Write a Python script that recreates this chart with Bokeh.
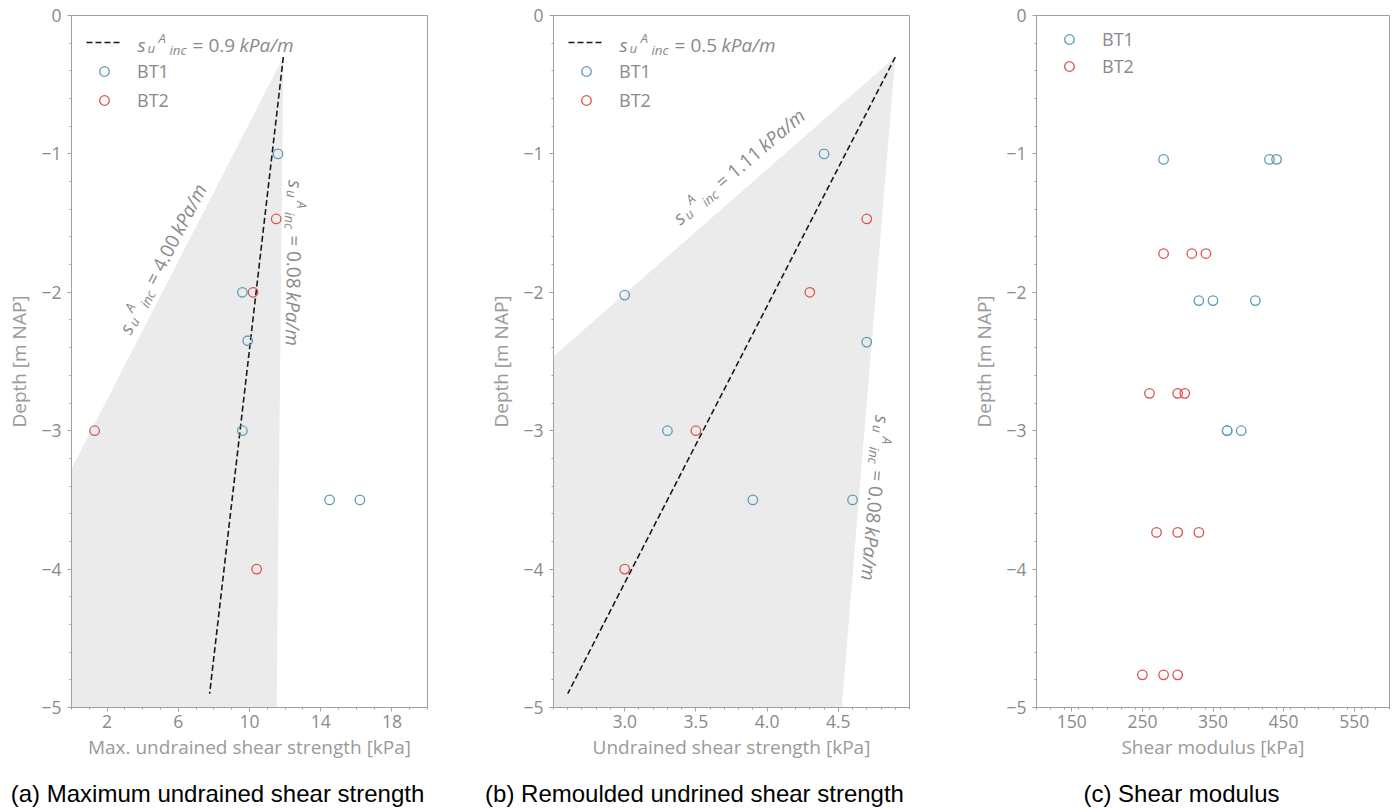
import math
from bokeh.plotting import figure
from bokeh.models import FixedTicker, Label, Legend, LegendItem, Range1d
from bokeh.layouts import row, column
from bokeh.embed import file_html
from bokeh.resources import INLINE

# ---------------- data ----------------
depth_ticks = [0, -1, -2, -3, -4, -5]
depth_tick_labels = ["0", "\u22121", "\u22122", "\u22123", "\u22124", "\u22125"]

a_ticks = [2, 6, 10, 14, 18]
a_tick_labels = ["2", "6", "10", "14", "18"]
b_ticks = [3.0, 3.5, 4.0, 4.5]
b_tick_labels = ["3.0", "3.5", "4.0", "4.5"]
c_ticks = [150, 250, 350, 450, 550]
c_tick_labels = ["150", "250", "350", "450", "550"]

panel_titles = ["(a) Maximum undrained shear strength",
                "(b) Remoulded undrined shear strength",
                "(c) Shear modulus"]

# (a) maximum undrained shear strength [kPa] vs depth [m NAP]
a_bt1_su = [11.6, 9.6, 9.9, 9.6, 14.5, 16.2]
a_bt1_depth = [-1.0, -2.0, -2.35, -3.0, -3.5, -3.5]
a_bt2_su = [11.5, 10.2, 1.3, 10.4]
a_bt2_depth = [-1.47, -2.0, -3.0, -4.0]
a_trend_su = [11.9, 7.76]
a_trend_depth = [-0.3, -4.9]
a_trend_rate = "0.9"
a_apex = [11.9, -0.3]
a_band_rates = [4.00, 0.08]
a_band_labels = ["4.00", "0.08"]

# (b) remoulded undrained shear strength
b_bt1_su = [4.4, 3.0, 3.3, 3.9, 4.7, 4.6]
b_bt1_depth = [-1.0, -2.02, -3.0, -3.5, -2.36, -3.5]
b_bt2_su = [4.7, 4.3, 3.5, 3.0]
b_bt2_depth = [-1.47, -2.0, -3.0, -4.0]
b_trend_su = [4.9, 2.6]
b_trend_depth = [-0.3, -4.9]
b_trend_rate = "0.5"
b_apex = [4.9, -0.3]
b_band_rates = [1.11, 0.08]
b_band_labels = ["1.11", "0.08"]

# (c) shear modulus [kPa]
c_bt1_g = [280, 430, 440, 330, 350, 410, 370, 370, 390]
c_bt1_depth = [-1.04, -1.04, -1.04, -2.06, -2.06, -2.06, -3.0, -3.0, -3.0]
c_bt2_g = [280, 320, 340, 260, 300, 310, 270, 300, 330, 250, 280, 300]
c_bt2_depth = [-1.72, -1.72, -1.72, -2.73, -2.73, -2.73, -3.735, -3.735, -3.735,
               -4.764, -4.764, -4.764]

# ---------------- style ----------------
BT1 = "#5b9db5"
BT2 = "#d9534f"
BAND = "#ebebeb"
TICK_C = "#8a8a8a"
LABEL_C = "#9a9a9a"
SPINE = "#a0a0a0"
FONT = "Open Sans"
TOP = 15
BOTTOM = 72
H = 779
CAP_H = 30
FRAME_H = H - TOP - BOTTOM
DEPTH_BOTTOM = -5.0

REG_W = {"0": .572, "1": .572, "2": .572, "3": .572, "4": .572, "5": .572,
         "6": .572, "7": .572, "8": .572, "9": .572, ".": .266, "=": .572, " ": .26}


def w_reg(s, size):
    return sum(REG_W.get(c, .57) for c in s) * size


def add_math(p, x, y, rate, angle=0.0, units="data", size=19.0, color=TICK_C):
    sub = size * 0.7
    t = math.radians(angle)
    d = (math.cos(t), math.sin(t))
    u = (-math.sin(t), math.cos(t))
    rate_txt = "= " + rate
    k_off = 2.9 * size + 0.9 * w_reg(rate_txt, size) + 0.45 * size
    pieces = [("s", 0.0, 0.0, size, "italic"),
              ("u", 0.53 * size, -0.19 * size, sub, "italic"),
              ("A", 1.1 * size, 0.36 * size, sub, "italic"),
              ("inc", 1.68 * size, -0.27 * size, sub, "italic"),
              (rate_txt, 2.9 * size, 0.0, size, "normal"),
              ("kPa/m", k_off, 0.0, size, "italic")]
    for txt, along, perp, fs, style in pieces:
        ox = along * d[0] + perp * u[0]
        oy = along * d[1] + perp * u[1]
        p.add_layout(Label(x=x, y=y, x_units=units, y_units=units, text=txt,
                           angle=angle, angle_units="deg", x_offset=ox, y_offset=oy,
                           text_font=FONT, text_font_size=f"{fs:.1f}px",
                           text_font_style=style, text_color=color,
                           text_align="left", text_baseline="alphabetic"))


def make_fig(xlabel, xr, width, left, right, ticks, tick_labels, minor):
    p = figure(width=width, height=H, x_range=Range1d(*xr), y_range=Range1d(DEPTH_BOTTOM, 0),
               output_backend="svg", toolbar_location=None, title=None,
               min_border_left=left, min_border_right=right,
               min_border_top=TOP, min_border_bottom=BOTTOM)
    p.xgrid.visible = False
    p.ygrid.visible = False
    p.outline_line_color = SPINE
    p.outline_line_width = 1
    p.background_fill_color = "white"
    p.border_fill_color = "white"

    p.xaxis.ticker = FixedTicker(ticks=ticks, minor_ticks=minor)
    p.xaxis.major_label_overrides = dict(zip(ticks, tick_labels))
    p.yaxis.ticker = FixedTicker(ticks=depth_ticks,
                                 minor_ticks=[-0.2 * i for i in range(26)])
    p.yaxis.major_label_overrides = dict(zip(depth_ticks, depth_tick_labels))
    p.xaxis.axis_label = xlabel
    p.yaxis.axis_label = "Depth [m NAP]"
    for ax in (p.xaxis[0], p.yaxis[0]):
        ax.axis_line_color = SPINE
        ax.major_tick_line_color = SPINE
        ax.minor_tick_line_color = SPINE
        ax.major_tick_in = 0
        ax.major_tick_out = 4
        ax.minor_tick_in = 0
        ax.minor_tick_out = 2
        ax.major_label_text_font = FONT
        ax.major_label_text_font_size = "17.5px"
        ax.major_label_text_color = TICK_C
        ax.axis_label_text_font = FONT
        ax.axis_label_text_font_size = "19px"
        ax.axis_label_text_font_style = "normal"
        ax.axis_label_text_color = LABEL_C
    p.xaxis.major_label_standoff = 3
    p.xaxis.axis_label_standoff = 3
    p.yaxis.major_label_standoff = 6
    p.yaxis.axis_label_standoff = 6
    return p


def caption(text, width, cx):
    c = figure(width=width, height=CAP_H, x_range=Range1d(0, 1), y_range=Range1d(0, 1),
               output_backend="svg", toolbar_location=None, title=None,
               x_axis_location=None, y_axis_location=None, min_border=0,
               outline_line_color=None)
    c.xgrid.visible = False
    c.ygrid.visible = False
    c.background_fill_color = "white"
    c.border_fill_color = "white"
    c.add_layout(Label(x=cx, y=16, x_units="screen", y_units="screen", text=text,
                       text_font="Liberation Sans", text_font_size="24px",
                       text_color="black", text_align="center",
                       text_baseline="alphabetic"))
    return c


def band(p, apex, rates):
    drop = apex[1] - DEPTH_BOTTOM
    xs = [apex[0], apex[0] - rates[0] * drop, apex[0] - rates[1] * drop]
    ys = [apex[1], DEPTH_BOTTOM, DEPTH_BOTTOM]
    p.patch(xs, ys, fill_color=BAND, line_alpha=0)


def legend(p, items, pad, gw, gh, spacing, standoff):
    lg = Legend(items=items, location="top_left", margin=0, padding=pad, spacing=spacing,
                glyph_width=gw, glyph_height=gh, label_height=gh, label_standoff=standoff,
                label_text_font=FONT, label_text_font_size="18px",
                label_text_color=TICK_C, border_line_alpha=0, background_fill_alpha=0)
    p.add_layout(lg)


def pts(p, xs, ys, color):
    return p.scatter(xs, ys, marker="circle", size=9.5, fill_color=None,
                     line_color=color, line_width=1.3)


W = [485, 483, 427]
LEG_Y = FRAME_H - 29

# ---------- (a) ----------
pa = make_fig("Max. undrained shear strength [kPa]", (0, 20), W[0], 71, 58,
              a_ticks, a_tick_labels, list(range(0, 21)))
band(pa, a_apex, a_band_rates)
ta = pa.line(a_trend_su, a_trend_depth, line_color="#1a1a1a", line_width=1.6, line_dash="6 3")
ra1 = pts(pa, a_bt1_su, a_bt1_depth, BT1)
ra2 = pts(pa, a_bt2_su, a_bt2_depth, BT2)
legend(pa, [LegendItem(label=" ", renderers=[ta]), LegendItem(label="BT1", renderers=[ra1]),
            LegendItem(label="BT2", renderers=[ra2])], 15, 36, 24, 5, 15)
add_math(pa, 66, LEG_Y, a_trend_rate, 0, units="screen")
add_math(pa, 2.98, -2.29, a_band_labels[0], 62.5)
add_math(pa, 12.58, -1.19, a_band_labels[1], -91)

# ---------- (b) ----------
pb = make_fig("Undrained shear strength [kPa]", (2.5, 5.0), W[1], 66, 59,
              b_ticks, b_tick_labels, [round(2.5 + 0.1 * i, 2) for i in range(26)])
band(pb, b_apex, b_band_rates)
tb = pb.line(b_trend_su, b_trend_depth, line_color="#1a1a1a", line_width=1.6, line_dash="6 3")
rb1 = pts(pb, b_bt1_su, b_bt1_depth, BT1)
rb2 = pts(pb, b_bt2_su, b_bt2_depth, BT2)
legend(pb, [LegendItem(label=" ", renderers=[tb]), LegendItem(label="BT1", renderers=[rb1]),
            LegendItem(label="BT2", renderers=[rb2])], 15, 36, 24, 5, 15)
add_math(pb, 66, LEG_Y, b_trend_rate, 0, units="screen")
add_math(pb, 3.36, -1.48, b_band_labels[0], 40.5)
add_math(pb, 4.81, -2.89, b_band_labels[1], -95)

# ---------- (c) ----------
pc = make_fig("Shear modulus [kPa]", (100, 600), W[2], 66, 6,
              c_ticks, c_tick_labels, list(range(100, 601, 20)))
rc1 = pts(pc, c_bt1_g, c_bt1_depth, BT1)
rc2 = pts(pc, c_bt2_g, c_bt2_depth, BT2)
legend(pc, [LegendItem(label="BT1", renderers=[rc1]), LegendItem(label="BT2", renderers=[rc2])],
       12, 42, 24, 3, 12)

caps = row(caption(panel_titles[0], W[0], 217),
           caption(panel_titles[1], W[1], 209),
           caption(panel_titles[2], W[2], 213))

layout = column(row(pa, pb, pc), caps)
open("out.html", "w").write(file_html(layout, INLINE))
